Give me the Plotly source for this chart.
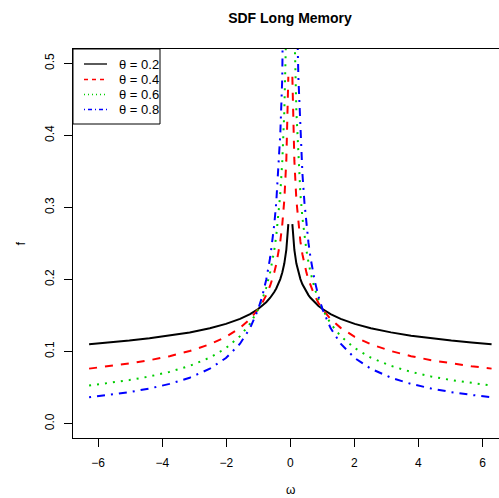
import plotly.graph_objects as go

# Frequencies (positive half); the spectral density is symmetric in omega
omega_pos = [0.0628, 0.1257, 0.1885, 0.2513, 0.3142, 0.3770, 0.4398, 0.5027,
             0.5655, 0.6283, 0.7540, 0.8796, 1.0053, 1.2566, 1.5708, 2.0106,
             2.5133, 3.1416, 3.7699, 4.3982, 5.0265, 5.6549, 6.2832]

# Spectral density values for each memory parameter theta
f_02 = [0.2768, 0.2410, 0.2222, 0.2098, 0.2006, 0.1934, 0.1876, 0.1826,
        0.1784, 0.1747, 0.1684, 0.1633, 0.1590, 0.1520, 0.1454, 0.1384,
        0.1324, 0.1266, 0.1221, 0.1184, 0.1152, 0.1125, 0.1102]
f_04 = [0.4815, 0.3650, 0.3103, 0.2766, 0.2529, 0.2351, 0.2211, 0.2096,
        0.1999, 0.1917, 0.1782, 0.1675, 0.1588, 0.1452, 0.1329, 0.1204,
        0.1101, 0.1007, 0.0936, 0.0880, 0.0834, 0.0796, 0.0763]
f_06 = [0.8376, 0.5527, 0.4333, 0.3646, 0.3188, 0.2857, 0.2606, 0.2405,
        0.2241, 0.2104, 0.1885, 0.1719, 0.1586, 0.1388, 0.1214, 0.1047,
        0.0916, 0.0801, 0.0718, 0.0654, 0.0604, 0.0563, 0.0528]
f_08 = [1.4569, 0.8369, 0.6050, 0.4806, 0.4019, 0.3473, 0.3071, 0.2760,
        0.2511, 0.2309, 0.1995, 0.1764, 0.1585, 0.1325, 0.1109, 0.0910,
        0.0762, 0.0637, 0.0551, 0.0487, 0.0437, 0.0398, 0.0366]

thetas = ["0.2", "0.4", "0.6", "0.8"]
colors = ["#000000", "#ff0000", "#00cd00", "#0000ff"]
plot_dash = ["solid", "8px,8px", "2px,6px", "2px,6px,8px,6px"]
legend_dash = ["solid", "4px,4px", "1px,3px", "1px,3px,4px,3px"]
x_ticks = [-6, -4, -2, 0, 2, 4, 6]
x_ticktext = ["\u22126", "\u22124", "\u22122", "0", "2", "4", "6"]
y_ticks = [0.0, 0.1, 0.2, 0.3, 0.4, 0.5]


def full_axis(vals_pos, neg=False):
    # mirror to negative frequencies; the pole at omega = 0 is left as a gap
    left = [(-v if neg else v) for v in reversed(vals_pos)]
    return left + [None] + list(vals_pos)


omega = full_axis(omega_pos, neg=True)
omega[len(omega_pos)] = 0.0

fig = go.Figure()
for th, vals, col, dsh in zip(thetas, [f_02, f_04, f_06, f_08], colors, plot_dash):
    fig.add_trace(go.Scatter(
        x=omega, y=full_axis(vals), mode="lines",
        line=dict(color=col, width=2, dash=dsh),
        connectgaps=False, showlegend=False, name=f"θ = {th}",
    ))

W, H = 499, 498
L, T, B = 73, 49, 438  # plot box in pixels


def px(xp):
    return (xp - L) / (W - L)


def py(yp):
    return (B - yp) / (B - T)


# Legend box: frame, key lines (on an overlay axis pair in 0..1 units) and labels
shapes = [dict(type="rect", xref="paper", yref="paper",
               x0=0, x1=px(160), y0=py(124), y1=1,
               line=dict(color="black", width=1), fillcolor="white", layer="below")]
annotations = []
rows = [64, 79.5, 94.5, 109.5]
for th, col, dsh, ry in zip(thetas, colors, legend_dash, rows):
    fig.add_trace(go.Scatter(
        x=[px(84), px(107)], y=[py(ry), py(ry)], mode="lines",
        xaxis="x2", yaxis="y2", hoverinfo="skip", showlegend=False,
        line=dict(color=col, width=1.3, dash=dsh),
    ))
    annotations.append(dict(xref="paper", yref="paper", x=px(117), y=py(ry),
                            xanchor="left", yanchor="middle", showarrow=False,
                            text=f"θ = {th}",
                            font=dict(size=13, color="black")))

annotations.append(dict(xref="x", yref="paper", x=0, y=py(490), text="ω",
                        showarrow=False, xanchor="center", yanchor="middle",
                        font=dict(size=12, color="black")))
annotations.append(dict(xref="paper", yref="paper", x=px(20), y=0.5, text="f",
                        showarrow=False, textangle=-90, xanchor="center",
                        yanchor="middle", font=dict(size=13, color="black")))

fig.update_layout(
    width=W, height=H,
    margin=dict(l=L, r=0, t=T, b=H - B, pad=0),
    paper_bgcolor="white", plot_bgcolor="white",
    font=dict(family="Liberation Sans, Arial, sans-serif", size=12, color="black"),
    title=dict(text="<b>SDF Long Memory</b>", x=290 / W, y=1 - 18 / H,
               xanchor="center", yanchor="middle",
               font=dict(size=14, color="black")),
    shapes=shapes, annotations=annotations,
    showlegend=False,
    xaxis=dict(range=[-6.786, 6.515], tickvals=x_ticks, ticktext=x_ticktext,
               ticks="outside", ticklen=8, tickcolor="black", tickwidth=1,
               showline=True, linecolor="black", linewidth=1, mirror=True,
               showgrid=False, zeroline=False, tickfont=dict(size=12),
               ticklabelstandoff=6),
    yaxis=dict(range=[-0.02, 0.52], tickvals=y_ticks, tickformat=".1f",
               ticks="outside", ticklen=8, tickcolor="black", tickwidth=1,
               showline=True, linecolor="black", linewidth=1, mirror=False,
               showgrid=False, zeroline=False, tickangle=-90,
               tickfont=dict(size=12), ticklabelstandoff=5),
    xaxis2=dict(overlaying="x", range=[0, 1], visible=False, fixedrange=True),
    yaxis2=dict(overlaying="y", range=[0, 1], visible=False, fixedrange=True),
)

fig.write_html("out.html")
